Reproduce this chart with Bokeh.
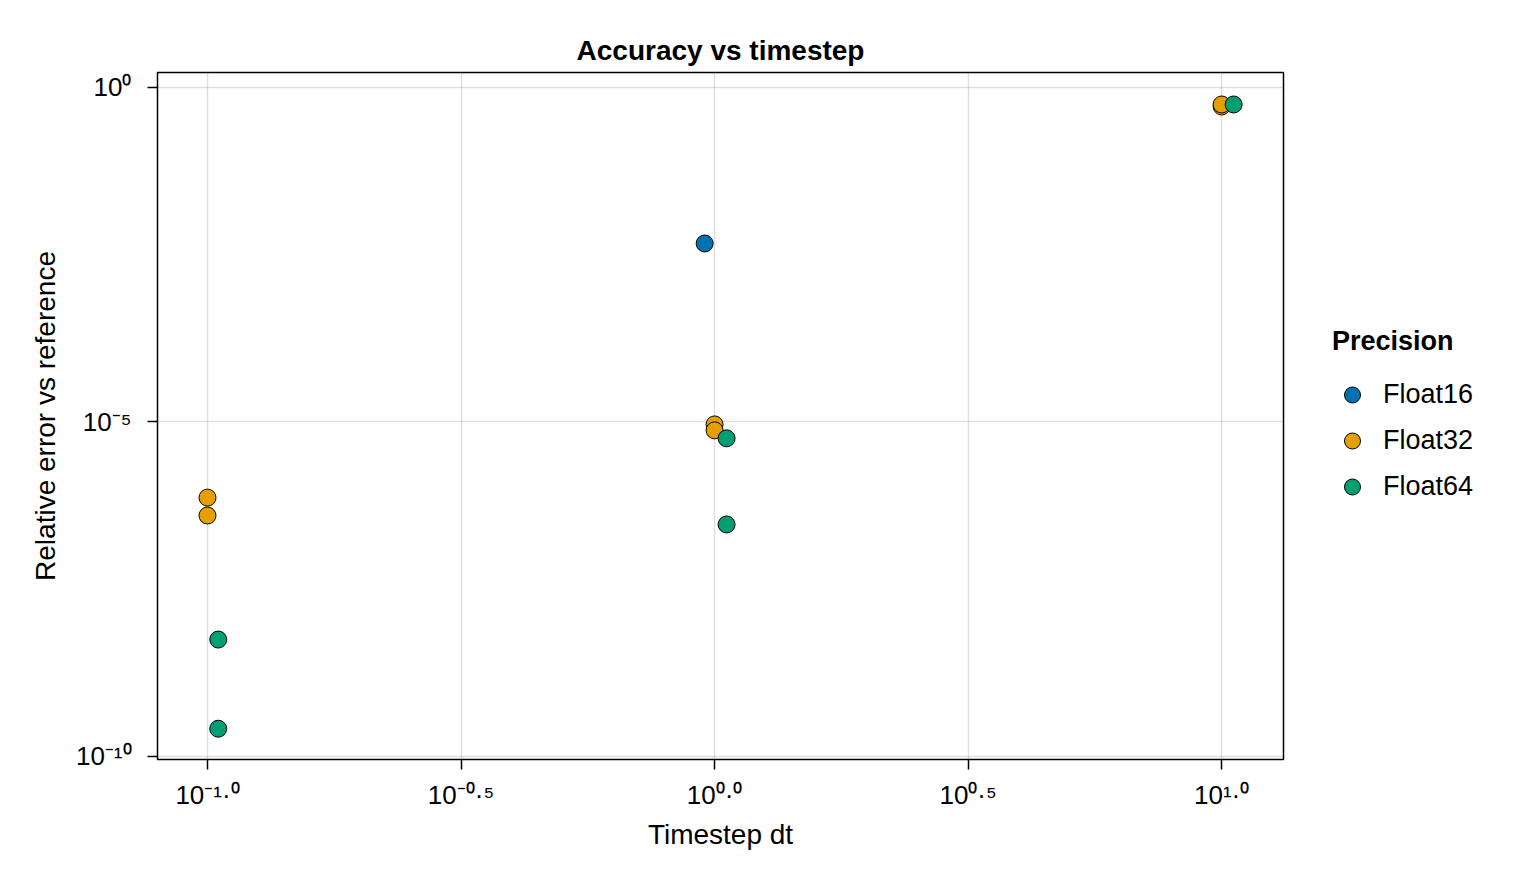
from bokeh.plotting import figure
from bokeh.models import (FixedTicker, CustomJSTickFormatter, Legend, LegendItem,
                          Range1d, ColumnDataSource)
from bokeh.embed import file_html
from bokeh.resources import INLINE

FONT = "Liberation Sans"

# ---- data ----
f16_dt = [0.956]
f16_err = [4.66e-3]

f32_dt = [0.1, 0.1, 1.0, 1.0, 10.0, 10.0]
f32_err = [7.4e-7, 4.0e-7, 9.2e-6, 7.5e-6, 0.52, 0.557]

f64_dt = [0.105, 0.105, 1.056, 1.056, 10.56]
f64_err = [5.6e-9, 2.6e-10, 5.7e-6, 2.94e-7, 0.557]

series_names = ["Float16", "Float32", "Float64"]
series_colors = ["#0072B2", "#E69F00", "#009E73"]

x_ticks = [10 ** -1.0, 10 ** -0.5, 1.0, 10 ** 0.5, 10.0]
y_ticks = [1e-10, 1e-5, 1.0]

p = figure(frame_width=1126, frame_height=687,
           x_axis_type="log", y_axis_type="log",
           output_backend="svg", toolbar_location=None,
           x_range=Range1d(10 ** -1.0986, 10 ** 1.122),
           y_range=Range1d(10 ** -10.045, 10 ** 0.224),
           min_border_left=157, min_border_right=221,
           min_border_top=72, min_border_bottom=105)

p.title.text = "Accuracy vs timestep"
p.title.align = "center"
p.title.text_font = FONT
p.title.text_font_size = "28px"
p.title.text_font_style = "bold"
p.title.text_color = "black"
p.title.standoff = 14

p.outline_line_color = "black"
p.outline_line_width = 1.5
p.outline_line_alpha = 1.0

sup_js = """
const sup = {'-':'\u207b','0':'\u2070','1':'\u00b9','2':'\u00b2','3':'\u00b3','4':'\u2074',
             '5':'\u2075','6':'\u2076','7':'\u2077','8':'\u2078','9':'\u2079','.':'\u00b7'};
const e = Math.log10(tick);
const s = (Math.round(e * 10) / 10).toFixed(DEC);
let out = '10';
for (const c of s) { out += (sup[c] !== undefined ? sup[c] : c); }
return out;
"""

p.xaxis.ticker = FixedTicker(ticks=x_ticks)
p.yaxis.ticker = FixedTicker(ticks=y_ticks)
p.xaxis.formatter = CustomJSTickFormatter(code=sup_js.replace("DEC", "1"))
p.yaxis.formatter = CustomJSTickFormatter(code=sup_js.replace("DEC", "0"))

for ax in (p.xaxis[0], p.yaxis[0]):
    ax.axis_line_color = None
    ax.major_tick_line_color = "black"
    ax.major_tick_line_width = 1.5
    ax.major_tick_out = 10
    ax.major_tick_in = 0
    ax.minor_tick_line_color = None
    ax.major_label_text_font = FONT
    ax.major_label_text_font_size = "26px"
    ax.major_label_text_color = "black"
    ax.axis_label_text_font = FONT
    ax.axis_label_text_font_size = "28px"
    ax.axis_label_text_font_style = "normal"
    ax.axis_label_text_color = "black"

p.xaxis.axis_label = "Timestep dt"
p.yaxis.axis_label = "Relative error vs reference"
p.xaxis.major_label_standoff = 10
p.yaxis.major_label_standoff = 16
p.xaxis.axis_label_standoff = 6
p.yaxis.axis_label_standoff = 12

p.xgrid.ticker = FixedTicker(ticks=x_ticks)
p.ygrid.ticker = FixedTicker(ticks=y_ticks)
for g in (p.xgrid[0], p.ygrid[0]):
    g.grid_line_color = "black"
    g.grid_line_alpha = 0.12
    g.grid_line_width = 1.5

items = []
for name, color, xs, ys in zip(series_names, series_colors,
                               [f16_dt, f32_dt, f64_dt],
                               [f16_err, f32_err, f64_err]):
    src = ColumnDataSource(dict(x=xs, y=ys))
    r = p.scatter("x", "y", source=src, marker="circle", size=17,
                  fill_color=color, line_color="black", line_width=1)
    items.append(LegendItem(label=name, renderers=[r]))

legend = Legend(items=items, title="Precision", location="center_left",
                orientation="vertical", ncols=1)
legend.title_text_font = FONT
legend.title_text_font_size = "27px"
legend.title_text_font_style = "bold"
legend.title_text_color = "black"
legend.title_standoff = 18
legend.label_text_font = FONT
legend.label_text_font_size = "27px"
legend.label_text_color = "black"
legend.label_standoff = 11
legend.glyph_width = 40
legend.glyph_height = 40
legend.spacing = 6
legend.border_line_color = None
legend.background_fill_alpha = 0
legend.margin = 49
legend.padding = 9
p.add_layout(legend, "right")

open("out.html", "w").write(file_html(p, INLINE))
